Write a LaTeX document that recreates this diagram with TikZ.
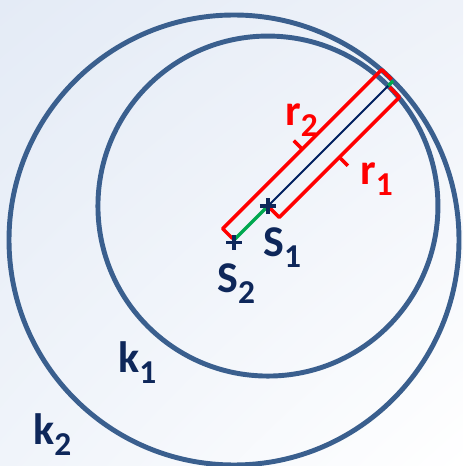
\documentclass[tikz,border=0pt]{standalone}
\usepackage{fontspec}
\setmainfont{Carlito}
\usetikzlibrary{calc,shadings}
\definecolor{circblue}{HTML}{3A5F8E}
\definecolor{navytext}{HTML}{0E275A}
\definecolor{navyline}{HTML}{002060}
\definecolor{segreen}{HTML}{00A84F}
\definecolor{bgul}{HTML}{E4EBF6}
\definecolor{bgur}{HTML}{EEF2F9}
\definecolor{bgll}{HTML}{F0F4FA}
\newcommand{\idx}[1]{\raisebox{-6pt}{\fontsize{19}{22}\selectfont #1}}

\begin{document}
\begin{tikzpicture}[
                circ/.style={draw=circblue, line width=2.8pt},
                greenseg/.style={draw=segreen, line width=2pt},
                radline/.style={draw=navyline, line width=1.1pt},
                bracketline/.style={draw=red, line width=2pt, line join=round},
                cross/.style={draw=navytext, line width=1.8pt},
                lbl/.style={anchor=base west, inner sep=0pt,
                        font=\bfseries\fontsize{25}{30}\selectfont, text=navytext},
                rlbl/.style={lbl, text=red}
            ]

            % Fondo
            \useasboundingbox (0,0) rectangle (9.26,9.32);
            \shade[upper left=bgul, upper right=bgur,
                lower left=bgll, lower right=white] (0,0) rectangle (9.26,9.32);

            % Centros y extremos
            \coordinate (S2) at (4.68,4.52);
            \coordinate (S1) at ($(S2)+(45:0.96)$);
            \coordinate (E1) at ($(S1)+(45:3.4)$);
            \coordinate (E2) at ($(S2)+(45:4.5)$);

            % Circunferencias
            \draw[circ] (S2) circle (4.5);
            \draw[circ] (S1) circle (3.4);

            % Radios
            \draw[greenseg] (S2) -- (S1);
            \draw[greenseg] (E1) -- (E2);
            \draw[radline] (S1) -- (E1);

            % Llave r1
            \draw[bracketline] ($(S1)+(-45:0.04)$) -- ($(S1)+(-45:0.32)$)
                -- ($(E1)+(-45:0.32)$) -- ($(E1)+(-45:0.04)$);
            \draw[bracketline] ($(S1)!0.5!(E1)+(-45:0.32)$) -- ++(-45:0.24);

            % Llave r2
            \draw[bracketline] ($(S2)+(135:0.04)$) -- ($(S2)+(135:0.32)$)
                -- ($(E2)+(135:0.32)$) -- ($(E2)+(135:0.04)$);
            \draw[bracketline] ($(S2)!0.5!(E2)+(135:0.32)$) -- ++(135:0.24);

            % Cruces
            \draw[cross] ([xshift=-0.16cm]S1) -- ([xshift=0.16cm]S1)
                ([yshift=-0.16cm]S1) -- ([yshift=0.16cm]S1);
            \draw[cross] ([xshift=-0.16cm,yshift=-0.05cm]S2) -- ([xshift=0.16cm,yshift=-0.05cm]S2)
                ([yshift=-0.2cm]S2) -- ([yshift=0.1cm]S2);

            % Etiquetas
            \node[lbl] (lS1) at (5.26,4.18) {S\idx{1}};
            \node[lbl] (lS2) at (4.34,3.46) {S\idx{2}};
            \node[rlbl] (lr1) at (7.20,5.62) {r\idx{1}};
            \node[rlbl] (lr2) at (5.70,6.80) {r\idx{2}};
            \node[lbl] (lk1) at (2.36,1.86) {k\idx{1}};
            \node[lbl] (lk2) at (0.66,0.42) {k\idx{2}};

        \end{tikzpicture}
\end{document}
